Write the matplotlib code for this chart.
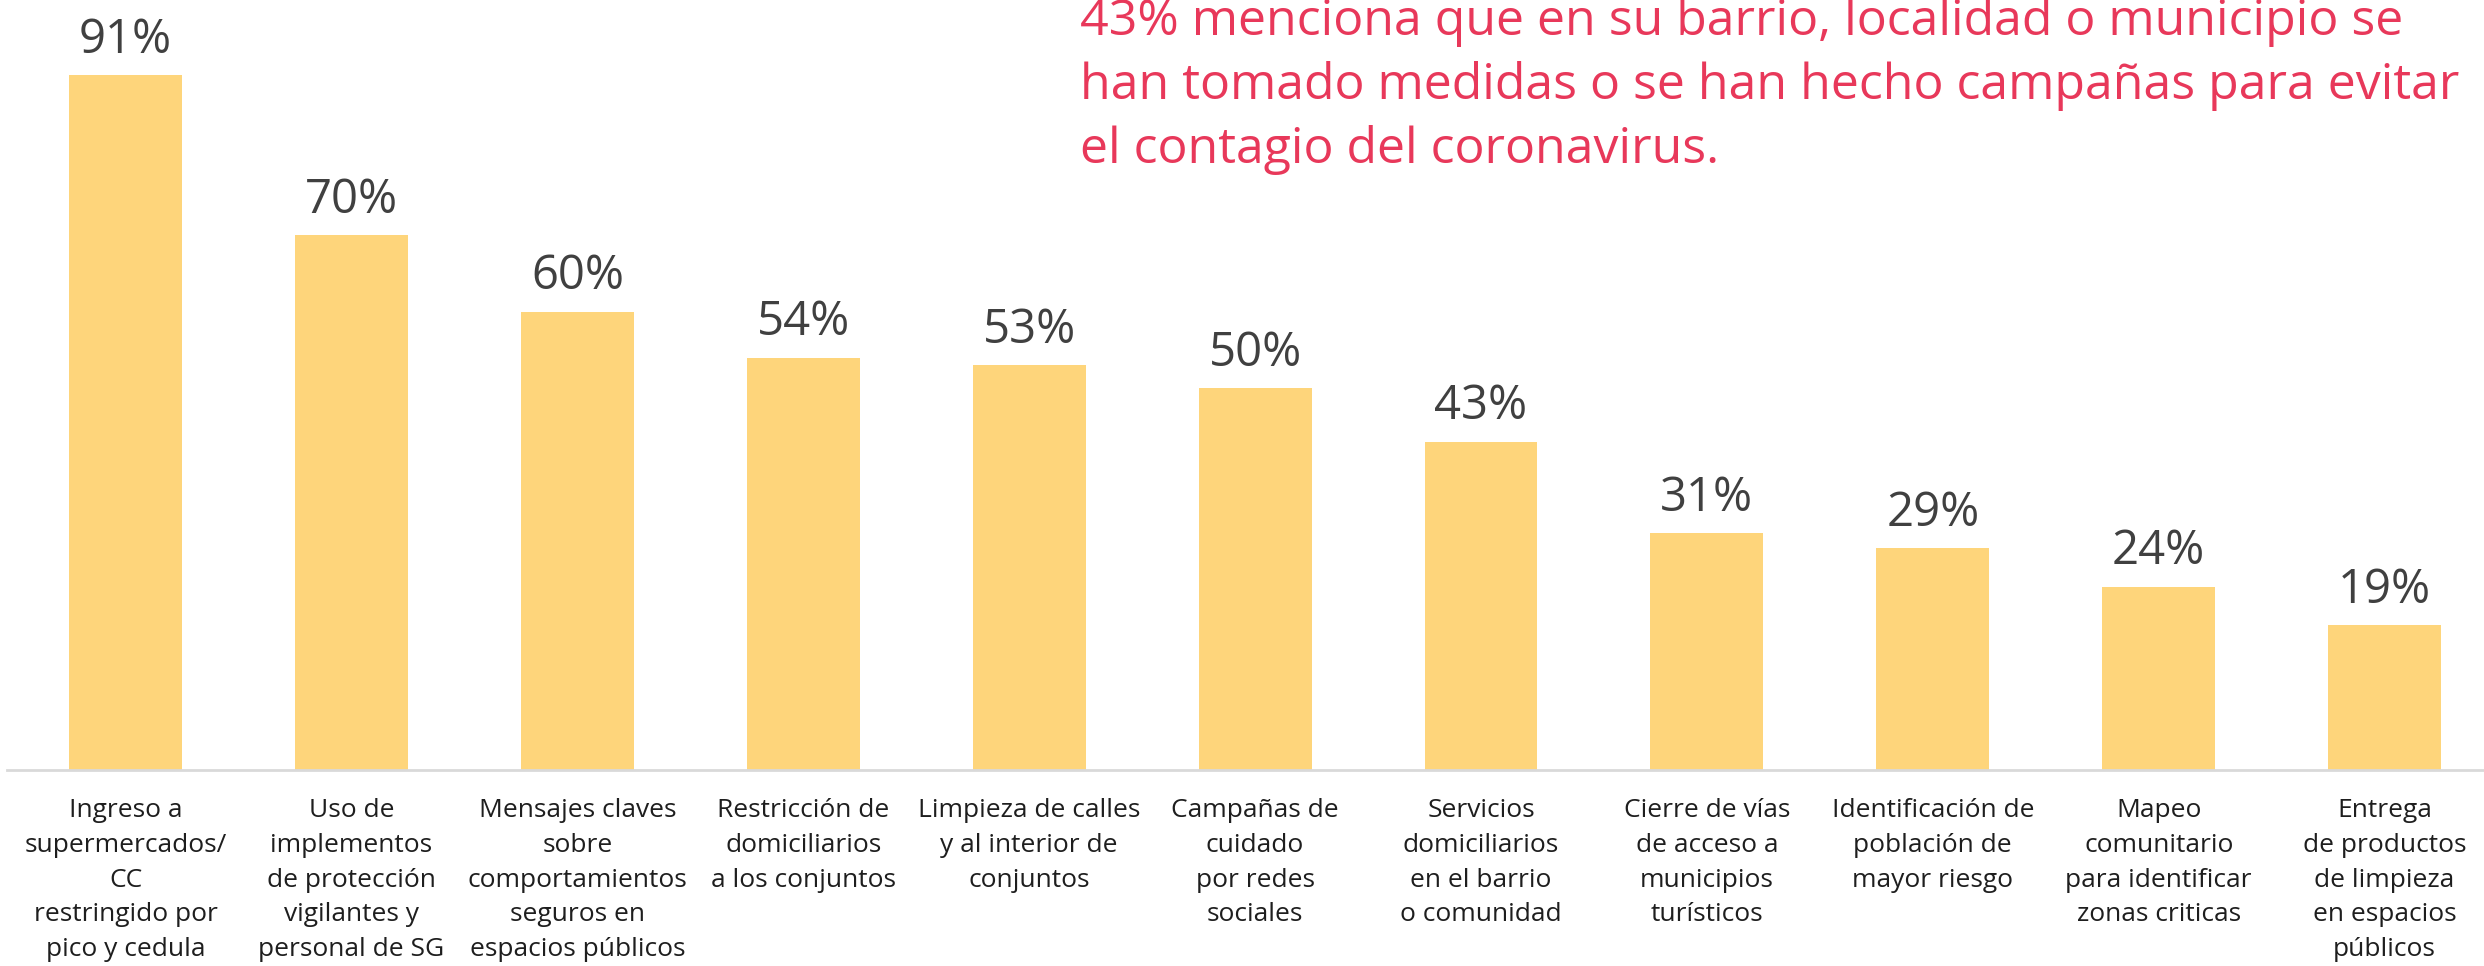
import matplotlib
matplotlib.use("Agg")
import matplotlib.pyplot as plt

# datos
categorias = [
    "Ingreso a\nsupermercados/\nCC\nrestringido por\npico y cedula",
    "Uso de\nimplementos\nde protección\nvigilantes y\npersonal de SG",
    "Mensajes claves\nsobre\ncomportamientos\nseguros en\nespacios públicos",
    "Restricción de\ndomiciliarios\na los conjuntos",
    "Limpieza de calles\ny al interior de\nconjuntos",
    "Campañas de\ncuidado\npor redes\nsociales",
    "Servicios\ndomiciliarios\nen el barrio\no comunidad",
    "Cierre de vías\nde acceso a\nmunicipios\nturísticos",
    "Identificación de\npoblación de\nmayor riesgo",
    "Mapeo\ncomunitario\npara identificar\nzonas criticas",
    "Entrega\nde productos\nde limpieza\nen espacios\npúblicos",
]
valores = [91, 70, 60, 54, 53, 50, 43, 31, 29, 24, 19]
titulo = ("43% menciona que en su barrio, localidad o municipio se\n"
          "han tomado medidas o se han hecho campañas para evitar\n"
          "el contagio del coronavirus.")

plt.rcParams['font.family'] = ['Open Sans', 'DejaVu Sans']

fig = plt.figure(figsize=(24.84, 9.66), dpi=100)
ax = fig.add_axes([7 / 2484, 196 / 966, 1 - 7 / 2484, 770 / 966])

x = range(len(valores))
barras = ax.bar(x, valores, width=0.5, color="#FED57B")
ax.set_xlim(-0.525, 10.44)
ax.set_ylim(0, 100.8)

for b, v in zip(barras, valores):
    ax.annotate(f"{v}%", (b.get_x() + b.get_width() / 2, v),
                xytext=(0, 16), textcoords="offset points",
                ha="center", va="baseline", fontsize=34, color="#404040")

ax.set_xticks(list(x))
ax.set_xticklabels(categorias, fontsize=19, color="#1E1E1E", linespacing=1.52,
                   va="top")
ax.tick_params(axis="x", length=0, pad=20)
ax.set_yticks([])
for s in ["top", "right", "left"]:
    ax.spines[s].set_visible(False)
ax.spines["bottom"].set_color("#D9D9D9")
ax.spines["bottom"].set_linewidth(2)

fig.text(1080 / 2484, 1 - 163 / 966, titulo, fontsize=36, color="#E8385A",
         ha="left", va="baseline", linespacing=1.37)

fig.savefig("out.png", dpi=100)
